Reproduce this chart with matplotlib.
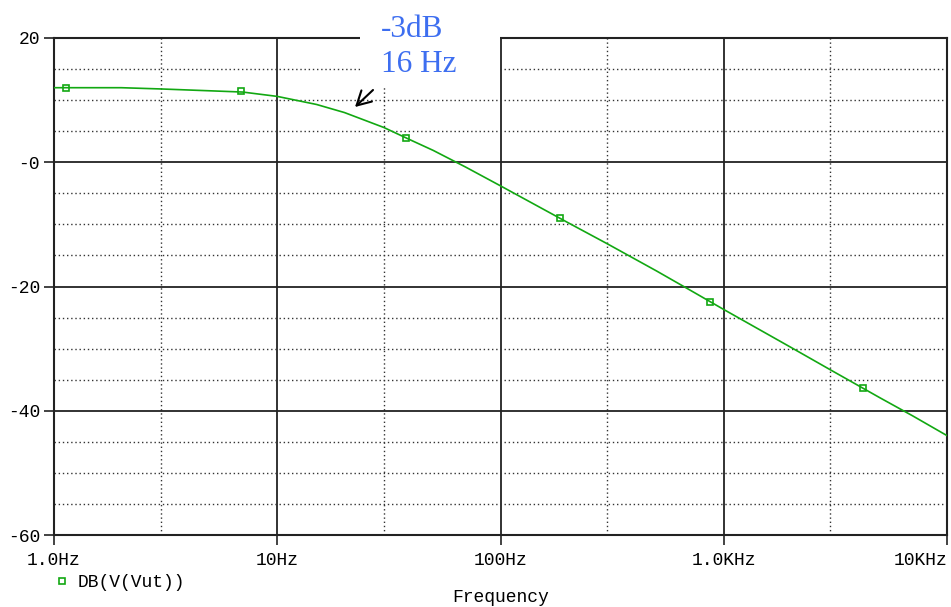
import numpy as np
import matplotlib.pyplot as plt
from matplotlib.patches import Rectangle
from matplotlib.ticker import FixedLocator, NullFormatter

# frequency response
freq = [1.0, 2.0, 3.0, 5.0, 7.0, 10, 15, 20, 30, 40, 50, 70, 100, 200, 300,
        500, 700, 1000, 2000, 3000, 5000, 7000, 10000]
db = [12.0, 12.0, 11.8, 11.5, 11.3, 10.6, 9.3, 8.0, 5.6, 3.5, 1.9, -0.8, -3.8,
      -9.7, -13.1, -17.5, -20.5, -23.7, -29.8, -33.4, -37.9, -40.8, -44.0]

# trace markers
mark_freq = [1.13, 6.9, 37.7, 184, 865, 4200]
mark_db = [11.9, 11.4, 3.9, -9.0, -22.5, -36.3]

xticks = [1, 10, 100, 1000, 10000]
xlabels = ["1.0Hz", "10Hz", "100Hz", "1.0KHz", "10KHz"]
yticks = [-60, -40, -20, 0, 20]
ylabels = ["-60", "-40", "-20", "-0", "20"]

green = "#12a812"
mono = "Liberation Mono"

fig = plt.figure(figsize=(9.51, 6.07), dpi=100)
ax = fig.add_axes([54 / 951, 1 - 535 / 607, 893 / 951, 497 / 607])

ax.plot(freq, db, color=green, lw=1.2, zorder=3)
ax.plot(mark_freq, mark_db, ls="none", marker="s", ms=5, mfc="none",
        mec=green, mew=1.2, zorder=4, label="DB(V(Vut))")

ax.set_xscale("log")
ax.set_xlim(1, 10000)
ax.set_ylim(-60, 20)

ax.xaxis.set_major_locator(FixedLocator(xticks))
ax.set_xticklabels(xlabels)
ax.xaxis.set_minor_locator(FixedLocator([3, 30, 300, 3000]))
ax.xaxis.set_minor_formatter(NullFormatter())
ax.yaxis.set_major_locator(FixedLocator(yticks))
ax.set_yticklabels(ylabels)
ax.yaxis.set_minor_locator(FixedLocator([v for v in range(-55, 20, 5) if v % 20 != 0]))

ax.grid(which="major", color="#222222", lw=1.3, ls="-")
ax.grid(which="minor", color="#333333", lw=1.0, ls=(0, (1, 2)))
ax.tick_params(which="minor", length=0)
ax.tick_params(which="major", length=7, width=1.2, color="#222222")
ax.tick_params(axis="x", pad=5)
ax.tick_params(axis="y", pad=3)
for lab in ax.get_xticklabels() + ax.get_yticklabels():
    lab.set_fontfamily(mono)
    lab.set_fontsize(13)
ax.get_xticklabels()[-1].set_horizontalalignment("right")
for sp in ax.spines.values():
    sp.set_color("#222222")
    sp.set_linewidth(1.5)

ax.set_xlabel("Frequency", fontfamily=mono, fontsize=13, labelpad=15)

ax.legend(loc="upper left", bbox_to_anchor=(49 / 951, 1 - 567 / 607),
          bbox_transform=fig.transFigure, frameon=False, handlelength=0.6,
          handletextpad=0.6, borderaxespad=0, prop={"family": mono, "size": 13})

# annotation box over the top of the plot
fig.patches.append(Rectangle((360 / 951, 1 - 88 / 607), 140 / 951, 88 / 607,
                             transform=fig.transFigure, facecolor="white",
                             edgecolor="none", zorder=5))
fig.text(381 / 951, 1 - 37 / 607, "-3dB", family="Liberation Serif",
         fontsize=22.5, color="#3d6ef0", va="baseline", zorder=6)
fig.text(381 / 951, 1 - 72 / 607, "16 Hz", family="Liberation Serif",
         fontsize=22.5, color="#3d6ef0", va="baseline", zorder=6)
ax.annotate("", xy=(355, 607 - 107), xytext=(373, 607 - 90),
            xycoords="figure pixels", textcoords="figure pixels",
            annotation_clip=False,
            arrowprops=dict(arrowstyle="->,head_length=1.0,head_width=0.55",
                            color="black", lw=1.5, shrinkA=0, shrinkB=0))

fig.savefig("out.png", dpi=100)
